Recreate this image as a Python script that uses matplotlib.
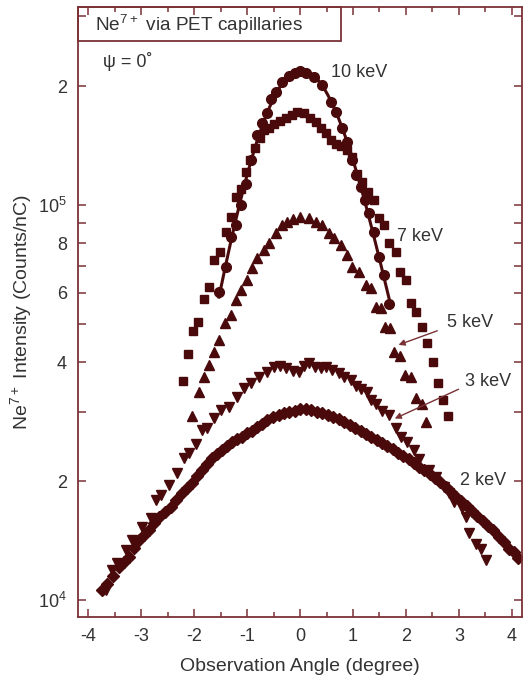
import numpy as np
import matplotlib
matplotlib.use('Agg')
import matplotlib.pyplot as plt
from matplotlib.patches import Rectangle
from matplotlib.ticker import FixedLocator, FixedFormatter, MultipleLocator

plt.rcParams['font.family'] = ['Liberation Sans', 'DejaVu Sans']
plt.rcParams['mathtext.fontset'] = 'custom'
plt.rcParams['mathtext.rm'] = 'Liberation Sans'
plt.rcParams['axes.unicode_minus'] = False

# 10 keV (circles, with fitted line)
ang_10 = [-1.53, -1.40, -1.30, -1.21, -1.11, -1.02, -0.92, -0.81, -0.72, -0.62, -0.55,
          -0.45, -0.34, -0.21, -0.09, 0.00, 0.11, 0.26, 0.42, 0.58, 0.68, 0.79, 0.89,
          0.98, 1.06, 1.15, 1.23, 1.30, 1.40, 1.49, 1.58, 1.68]
int_10 = [6.03e4, 6.97e4, 8.30e4, 8.89e4, 1.00e5, 1.13e5, 1.30e5, 1.50e5, 1.61e5, 1.71e5,
          1.85e5, 1.93e5, 2.05e5, 2.12e5, 2.16e5, 2.18e5, 2.16e5, 2.11e5, 2.01e5, 1.82e5,
          1.72e5, 1.57e5, 1.44e5, 1.30e5, 1.19e5, 1.11e5, 1.03e5, 9.55e4, 8.55e4, 7.39e4,
          6.65e4, 5.61e4]

# 7 keV (squares)
ang_7 = [-2.21, -2.11, -2.02, -1.92, -1.81, -1.72, -1.62, -1.51, -1.40, -1.30, -1.21,
         -1.11, -1.02, -0.94, -0.85, -0.75, -0.68, -0.58, -0.49, -0.38, -0.26, -0.15,
         -0.06, 0.08, 0.19, 0.30, 0.40, 0.49, 0.58, 0.68, 0.77, 0.89, 0.98, 1.08, 1.17,
         1.28, 1.40, 1.49, 1.58, 1.68, 1.81, 1.89, 2.00, 2.09, 2.19, 2.30, 2.40, 2.51,
         2.60, 2.70, 2.79]
int_7 = [3.58e4, 4.20e4, 4.80e4, 5.06e4, 5.78e4, 6.20e4, 7.26e4, 7.60e4, 8.55e4, 9.33e4,
         1.05e5, 1.10e5, 1.21e5, 1.30e5, 1.39e5, 1.48e5, 1.55e5, 1.57e5, 1.60e5, 1.63e5,
         1.66e5, 1.69e5, 1.72e5, 1.71e5, 1.66e5, 1.62e5, 1.57e5, 1.52e5, 1.46e5, 1.43e5,
         1.41e5, 1.38e5, 1.32e5, 1.20e5, 1.14e5, 1.08e5, 1.03e5, 9.27e4, 8.89e4, 8.02e4,
         7.60e4, 6.76e4, 6.46e4, 5.65e4, 5.36e4, 4.91e4, 4.48e4, 4.01e4, 3.54e4, 3.21e4,
         2.92e4]

# 5 keV (up triangles)
ang_5 = [-2.04, -1.91, -1.81, -1.72, -1.62, -1.53, -1.42, -1.30, -1.21, -1.11, -1.00,
         -0.91, -0.81, -0.68, -0.58, -0.45, -0.34, -0.25, -0.13, 0.00, 0.17, 0.30, 0.42,
         0.55, 0.64, 0.77, 0.89, 0.98, 1.11, 1.25, 1.34, 1.43, 1.53, 1.60, 1.70, 1.77,
         1.89, 1.98, 2.09, 2.19, 2.30, 2.38]
int_5 = [2.92e4, 3.36e4, 3.67e4, 3.94e4, 4.25e4, 4.55e4, 5.03e4, 5.27e4, 5.75e4, 6.09e4,
         6.46e4, 6.93e4, 7.35e4, 7.69e4, 8.02e4, 8.50e4, 8.89e4, 9.06e4, 9.22e4, 9.33e4,
         9.27e4, 9.06e4, 8.89e4, 8.50e4, 8.24e4, 7.92e4, 7.46e4, 6.97e4, 6.76e4, 6.27e4,
         6.16e4, 5.52e4, 5.49e4, 4.91e4, 4.88e4, 4.25e4, 4.15e4, 3.72e4, 3.67e4, 3.25e4,
         3.13e4, 2.82e4]

# 3 keV (down triangles)
ang_3 = [-3.66, -3.55, -3.45, -3.28, -3.17, -2.98, -2.81, -2.72, -2.62, -2.47, -2.32,
         -2.19, -2.09, -1.96, -1.85, -1.75, -1.62, -1.49, -1.34, -1.19, -1.06, -0.92,
         -0.77, -0.62, -0.49, -0.38, -0.26, -0.13, -0.02, 0.08, 0.17, 0.28, 0.40, 0.49,
         0.60, 0.74, 0.83, 0.96, 1.06, 1.15, 1.26, 1.34, 1.43, 1.55, 1.68, 1.81, 1.91,
         2.02, 2.15, 2.25, 2.43, 2.57, 2.72, 2.81, 2.91, 3.06, 3.13, 3.19, 3.32, 3.42, 3.51]
int_3 = [1.06e4, 1.19e4, 1.24e4, 1.34e4, 1.42e4, 1.53e4, 1.61e4, 1.79e4, 1.85e4, 1.96e4,
         2.10e4, 2.29e4, 2.36e4, 2.48e4, 2.69e4, 2.72e4, 2.89e4, 3.03e4, 3.08e4, 3.27e4,
         3.44e4, 3.54e4, 3.67e4, 3.78e4, 3.89e4, 3.91e4, 3.87e4, 3.80e4, 3.78e4, 3.91e4,
         3.98e4, 3.89e4, 3.87e4, 3.89e4, 3.82e4, 3.76e4, 3.67e4, 3.61e4, 3.48e4, 3.42e4,
         3.36e4, 3.21e4, 3.13e4, 3.01e4, 2.94e4, 2.72e4, 2.59e4, 2.51e4, 2.40e4, 2.28e4,
         2.13e4, 2.05e4, 1.93e4, 1.87e4, 1.77e4, 1.71e4, 1.62e4, 1.48e4, 1.39e4, 1.35e4,
         1.26e4]

# 2 keV (diamonds)
ang_2 = [-3.74, -3.64, -3.53, -3.42, -3.32, -3.23, -3.13, -3.04, -2.94, -2.85, -2.75,
         -2.66, -2.55, -2.43, -2.34, -2.23, -2.13, -2.04, -1.94, -1.85, -1.75, -1.66,
         -1.57, -1.47, -1.38, -1.28, -1.19, -1.09, -1.00, -0.91, -0.81, -0.72, -0.62,
         -0.51, -0.40, -0.30, -0.21, -0.09, 0.00, 0.11, 0.21, 0.32, 0.42, 0.53, 0.62,
         0.74, 0.83, 0.94, 1.04, 1.15, 1.25, 1.34, 1.45, 1.55, 1.64, 1.75, 1.85, 1.94,
         2.06, 2.15, 2.25, 2.34, 2.45, 2.55, 2.64, 2.75, 2.85, 2.94, 3.04, 3.15, 3.25,
         3.34, 3.45, 3.55, 3.64, 3.75, 3.85, 3.94, 4.04, 4.11]
int_2 = [1.06e4, 1.10e4, 1.15e4, 1.21e4, 1.25e4, 1.285e4, 1.354e4, 1.419e4, 1.461e4,
         1.504e4, 1.566e4, 1.623e4, 1.670e4, 1.720e4, 1.791e4, 1.866e4, 1.921e4, 1.978e4,
         2.061e4, 2.134e4, 2.210e4, 2.288e4, 2.342e4, 2.397e4, 2.454e4, 2.512e4, 2.556e4,
         2.586e4, 2.647e4, 2.678e4, 2.742e4, 2.790e4, 2.856e4, 2.906e4, 2.940e4, 2.974e4,
         2.992e4, 3.009e4, 3.04e4, 3.05e4, 3.03e4, 2.99e4, 2.97e4, 2.94e4, 2.91e4, 2.87e4,
         2.82e4, 2.77e4, 2.73e4, 2.68e4, 2.63e4, 2.59e4, 2.54e4, 2.50e4, 2.45e4, 2.41e4,
         2.36e4, 2.32e4, 2.28e4, 2.22e4, 2.17e4, 2.13e4, 2.08e4, 2.04e4, 1.99e4, 1.93e4,
         1.88e4, 1.82e4, 1.78e4, 1.73e4, 1.68e4, 1.63e4, 1.585e4, 1.54e4, 1.50e4, 1.44e4,
         1.40e4, 1.35e4, 1.32e4, 1.28e4]

mc = '#4a0a0c'
frame = '#7a3236'
tc = '#333333'

fig = plt.figure(figsize=(5.23, 6.77), dpi=100)
ax = fig.add_axes([78 / 523, 60 / 677, 443.5 / 523, 610 / 677])

ax.plot(ang_7, int_7, 's', color=mc, ms=6.0, mec=mc)
ax.plot(ang_5, int_5, '^', color=mc, ms=6.6, mec=mc)
ax.plot(ang_3, int_3, 'v', color=mc, ms=6.6, mec=mc)
ax.plot(ang_2, int_2, 'D', color=mc, ms=5.8, mec=mc)
ax.plot(ang_10, int_10, 'o', color=mc, ms=7.0, mec=mc)

# smooth fit through the 10 keV points
coef = np.polyfit(ang_10, np.log10(int_10), 4)
xf = np.linspace(min(ang_10), max(ang_10), 200)
ax.plot(xf, 10 ** np.polyval(coef, xf), '-', color=mc, lw=2.2)

ax.set_yscale('log')
ax.set_xlim(-4.19, 4.18)
ax.set_ylim(9.06e3, 3.17e5)

yt = [1e4, 2e4, 3e4, 4e4, 5e4, 6e4, 7e4, 8e4, 9e4, 1e5, 2e5, 3e5]
yl = ['$10^4$', '2', '', '4', '', '6', '', '8', '', '$10^5$', '2', '']
ax.yaxis.set_major_locator(FixedLocator(yt))
ax.yaxis.set_major_formatter(FixedFormatter(yl))
ax.yaxis.set_minor_locator(FixedLocator([]))
ax.xaxis.set_major_locator(MultipleLocator(1))
ax.xaxis.set_minor_locator(MultipleLocator(0.5))

for s in ax.spines.values():
    s.set_color(frame)
    s.set_linewidth(1.3)
ax.tick_params(which='both', direction='in', top=True, right=True, color=frame,
               labelcolor=tc, labelsize=13, width=1.1)
ax.tick_params(which='major', length=6, pad=8)
ax.tick_params(which='minor', length=3.5)

ax.set_xlabel('Observation Angle (degree)', fontsize=14, color=tc, labelpad=9)
ax.set_ylabel('Ne$^{7+}$ Intensity (Counts/nC)', fontsize=14, color=tc, labelpad=2)

# title box in the top-left corner
ax.add_patch(Rectangle((0, 0.944), 0.594, 0.056, transform=ax.transAxes,
                       fill=False, edgecolor=frame, lw=1.3, clip_on=False))
ax.text(0.038, 0.971, 'Ne$^{7+}$ via PET capillaries', transform=ax.transAxes,
        fontsize=13.7, color=tc, va='center', ha='left')
ax.text(0.056, 0.91, 'ψ = 0˚', transform=ax.transAxes, fontsize=13, color=tc,
        va='center', ha='left')

ax.text(0.585, 2.16e5, '10 keV', fontsize=13, color=tc, va='center')
ax.text(1.83, 8.3e4, '7 keV', fontsize=13, color=tc, va='center')
ax.text(2.77, 5.03e4, '5 keV', fontsize=13, color=tc, va='center')
ax.text(3.11, 3.57e4, '3 keV', fontsize=13, color=tc, va='center')
ax.text(3.02, 2.01e4, '2 keV', fontsize=13, color=tc, va='center')
ax.annotate('', xy=(1.81, 4.40e4), xytext=(2.64, 4.83e4),
            arrowprops=dict(arrowstyle='-|>', color=frame, lw=1.0, mutation_scale=9))
ax.annotate('', xy=(1.74, 2.86e4), xytext=(3.04, 3.44e4),
            arrowprops=dict(arrowstyle='-|>', color=frame, lw=1.0, mutation_scale=9))

fig.savefig('out.png', dpi=100)
